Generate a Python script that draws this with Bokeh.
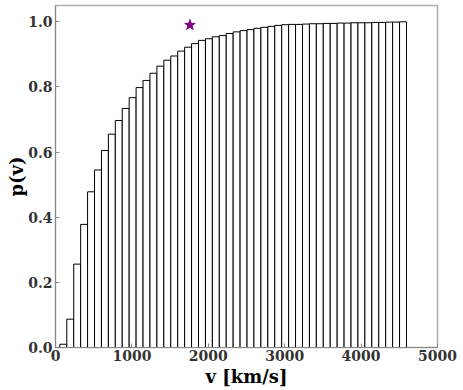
import numpy as np
from bokeh.plotting import figure
from bokeh.models import ColumnDataSource, FixedTicker, CustomJSTickFormatter
from bokeh.embed import file_html
from bokeh.resources import INLINE

# ---- data ----
v_min = 57.0      # km/s, lower edge of the first bin
v_max = 4594.0    # km/s, upper edge of the last bin
n_bins = 50
cum_p = [0.010, 0.087, 0.256, 0.378, 0.478, 0.545, 0.605, 0.655, 0.697, 0.734,
         0.767, 0.798, 0.820, 0.842, 0.864, 0.882, 0.895, 0.910, 0.922, 0.933,
         0.943, 0.948, 0.954, 0.958, 0.964, 0.969, 0.973, 0.976, 0.980, 0.983,
         0.986, 0.989, 0.991, 0.992, 0.992, 0.993, 0.994, 0.994, 0.995, 0.995,
         0.996, 0.996, 0.997, 0.997, 0.997, 0.998, 0.998, 0.999, 0.999, 1.000]
star_v = [1760.0]
star_p = [0.990]
x_ticks = [0, 1000, 2000, 3000, 4000, 5000]
y_ticks = [0.0, 0.2, 0.4, 0.6, 0.8, 1.0]

edges = np.linspace(v_min, v_max, n_bins + 1)
src = ColumnDataSource(dict(left=edges[:-1], right=edges[1:], top=cum_p,
                            bottom=[0.0] * n_bins))

p = figure(width=463, height=390, output_backend="svg", toolbar_location=None,
           x_range=(0, 5000), y_range=(0, 1.05),
           min_border_left=55, min_border_right=26, min_border_top=5,
           min_border_bottom=43)

p.quad(left="left", right="right", top="top", bottom="bottom", source=src,
       fill_color="white", line_color="black", line_width=1)
p.scatter(star_v, star_p, marker="star", size=11, color="#800080")

p.grid.visible = False
p.outline_line_color = "#b0b0b0"
p.outline_line_width = 1.5

serif = "DejaVu Serif"
for ax in (p.xaxis[0], p.yaxis[0]):
    ax.axis_line_color = "#888888"
    ax.axis_line_width = 1
    ax.major_tick_in = 4
    ax.major_tick_out = 0
    ax.major_tick_line_color = "#888888"
    ax.minor_tick_line_color = None
    ax.major_label_text_font = serif
    ax.major_label_text_font_style = "bold"
    ax.major_label_text_font_size = "14px"
    ax.major_label_text_color = "#333333"
    ax.axis_label_text_font = serif
    ax.axis_label_text_font_style = "bold"
    ax.axis_label_text_font_size = "18px"
    ax.axis_label_text_color = "black"

p.xaxis.ticker = FixedTicker(ticks=x_ticks)
p.yaxis.ticker = FixedTicker(ticks=y_ticks)
p.yaxis.formatter = CustomJSTickFormatter(code="return tick.toFixed(1);")
p.xaxis.formatter = CustomJSTickFormatter(code="return tick.toFixed(0);")
p.xaxis.major_label_standoff = 2
p.yaxis.major_label_standoff = 3
p.xaxis.axis_label = "v [km/s]"
p.yaxis.axis_label = "p(v)"
p.xaxis.axis_label_standoff = 2
p.yaxis.axis_label_standoff = -2

open("out.html", "w").write(file_html(p, INLINE))
